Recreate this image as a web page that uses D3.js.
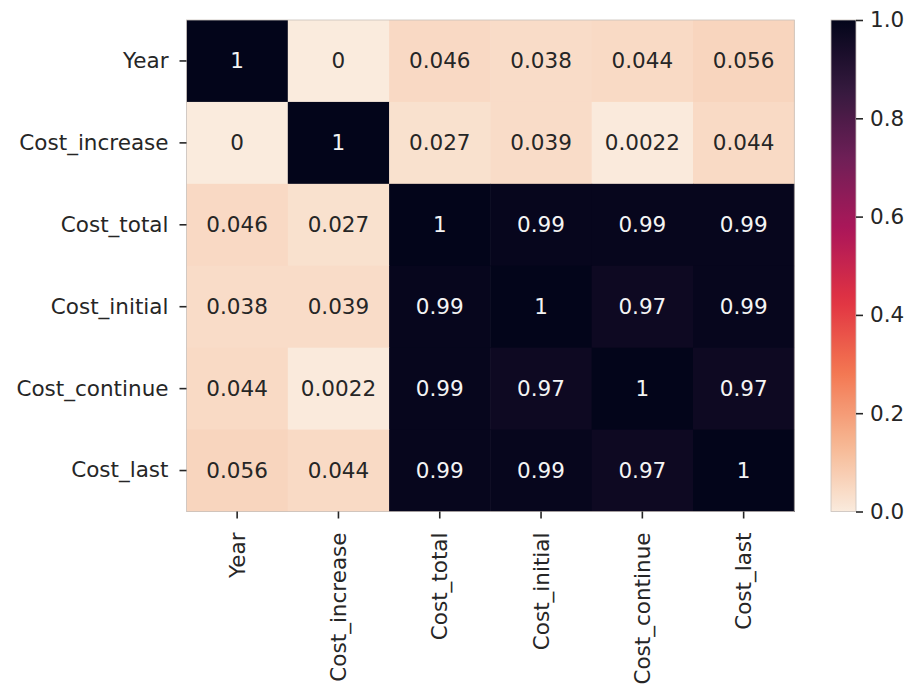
<!DOCTYPE html>
<html>
<head>
<meta charset="utf-8">
<script src="https://cdn.jsdelivr.net/npm/d3@7"></script>
<style>
  html, body { margin: 0; padding: 0; background: #fff; }
  svg { display: block; font-family: "DejaVu Sans", sans-serif; }
</style>
</head>
<body>
<svg id="chart" width="909" height="687"></svg>
<script>
// Correlation matrix of cost variables
const variables = ["Year", "Cost_increase", "Cost_total", "Cost_initial", "Cost_continue", "Cost_last"];
const rowYear         = [1,     0,      0.046, 0.038, 0.044,  0.056];
const rowCostIncrease = [0,     1,      0.027, 0.039, 0.0022, 0.044];
const rowCostTotal    = [0.046, 0.027,  1,     0.99,  0.99,   0.99];
const rowCostInitial  = [0.038, 0.039,  0.99,  1,     0.97,   0.99];
const rowCostContinue = [0.044, 0.0022, 0.99,  0.97,  1,      0.97];
const rowCostLast     = [0.056, 0.044,  0.99,  0.99,  0.97,   1];
const matrix = [rowYear, rowCostIncrease, rowCostTotal, rowCostInitial, rowCostContinue, rowCostLast];
const colorbarTicks = [0.0, 0.2, 0.4, 0.6, 0.8, 1.0];

// "rocket" palette anchors (dark -> light); reversed so high values are dark
const rocketStops = ["#03051a", "#35193e", "#701f57", "#ad1759", "#e13342", "#f37651", "#f6b48f", "#faebdd"];
const rocket = d3.scaleLinear()
  .domain(rocketStops.map((_, i) => i / (rocketStops.length - 1)))
  .range(rocketStops)
  .interpolate(d3.interpolateRgb);
const color = v => rocket(1 - v);

const svg = d3.select("#chart");
const fontSize = 21.5;
const ink = "#262626";

const plot = { left: 186.5, top: 20, right: 794.3, bottom: 511.5 };
const x = d3.scaleBand().domain(variables).range([plot.left, plot.right]);
const y = d3.scaleBand().domain(variables).range([plot.top, plot.bottom]);

const cells = [];
matrix.forEach((row, i) => row.forEach((v, j) => cells.push({ r: variables[i], c: variables[j], v })));

// Heatmap cells
svg.append("g").selectAll("rect").data(cells).join("rect")
  .attr("x", d => x(d.c))
  .attr("y", d => y(d.r))
  .attr("width", x.bandwidth() + 0.5)
  .attr("height", y.bandwidth() + 0.5)
  .attr("fill", d => color(d.v));

// Thin outline around the mesh
svg.append("rect")
  .attr("x", plot.left).attr("y", plot.top)
  .attr("width", plot.right - plot.left).attr("height", plot.bottom - plot.top)
  .attr("fill", "none").attr("stroke", "#c8c0bb").attr("stroke-width", 0.8);

// Annotations: dark text on light cells, white on dark cells
const fmt = d3.format(".2~g");
function textColor(v) {
  const c = d3.rgb(color(v));
  const lin = ch => { ch /= 255; return ch <= 0.03928 ? ch / 12.92 : Math.pow((ch + 0.055) / 1.055, 2.4); };
  const lum = 0.2126 * lin(c.r) + 0.7152 * lin(c.g) + 0.0722 * lin(c.b);
  return lum > 0.408 ? ink : "#f4f4f4";
}
svg.append("g").selectAll("text").data(cells).join("text")
  .attr("x", d => x(d.c) + x.bandwidth() / 2)
  .attr("y", d => y(d.r) + y.bandwidth() / 2)
  .attr("text-anchor", "middle")
  .attr("dominant-baseline", "central")
  .attr("font-size", fontSize)
  .attr("fill", d => textColor(d.v))
  .text(d => fmt(d.v));

// Y axis (left)
const yAxis = svg.append("g")
  .attr("transform", `translate(${plot.left},0)`)
  .call(d3.axisLeft(y).tickSize(7).tickPadding(11));
yAxis.select(".domain").remove();
yAxis.selectAll(".tick line").attr("stroke", ink).attr("stroke-width", 1.6);
yAxis.selectAll(".tick text").attr("font-size", fontSize).attr("fill", ink)
  .attr("font-family", "DejaVu Sans, sans-serif");

// X axis (bottom), labels rotated vertical
const xAxis = svg.append("g")
  .attr("transform", `translate(0,${plot.bottom})`)
  .call(d3.axisBottom(x).tickSize(7).tickPadding(7));
xAxis.select(".domain").remove();
xAxis.selectAll(".tick line").attr("stroke", ink).attr("stroke-width", 1.6);
xAxis.selectAll(".tick text")
  .attr("font-size", fontSize).attr("fill", ink)
  .attr("font-family", "DejaVu Sans, sans-serif")
  .attr("transform", "rotate(-90)")
  .attr("text-anchor", "end")
  .attr("x", -21).attr("y", 0).attr("dy", "0.35em");

// Colorbar
const cb = { left: 831, right: 856, top: 20, bottom: 511.5 };
const cbScale = d3.scaleLinear().domain([0, 1]).range([cb.bottom, cb.top]);
const defs = svg.append("defs");
const grad = defs.append("linearGradient").attr("id", "cbGrad")
  .attr("x1", 0).attr("y1", 1).attr("x2", 0).attr("y2", 0);
d3.range(0, 1.0001, 0.02).forEach(t => {
  grad.append("stop").attr("offset", t).attr("stop-color", color(t));
});
svg.append("rect")
  .attr("x", cb.left).attr("y", cb.top)
  .attr("width", cb.right - cb.left).attr("height", cb.bottom - cb.top)
  .attr("fill", "url(#cbGrad)")
  .attr("stroke", "#c8c0bb").attr("stroke-width", 0.8);

const cbAxis = svg.append("g")
  .attr("transform", `translate(${cb.right},0)`)
  .call(d3.axisRight(cbScale).tickValues(colorbarTicks).tickFormat(d3.format(".1f")).tickSize(7).tickPadding(7));
cbAxis.select(".domain").remove();
cbAxis.selectAll(".tick line").attr("stroke", ink).attr("stroke-width", 1.6);
cbAxis.selectAll(".tick text").attr("font-size", fontSize).attr("fill", ink)
  .attr("font-family", "DejaVu Sans, sans-serif");
</script>
</body>
</html>
